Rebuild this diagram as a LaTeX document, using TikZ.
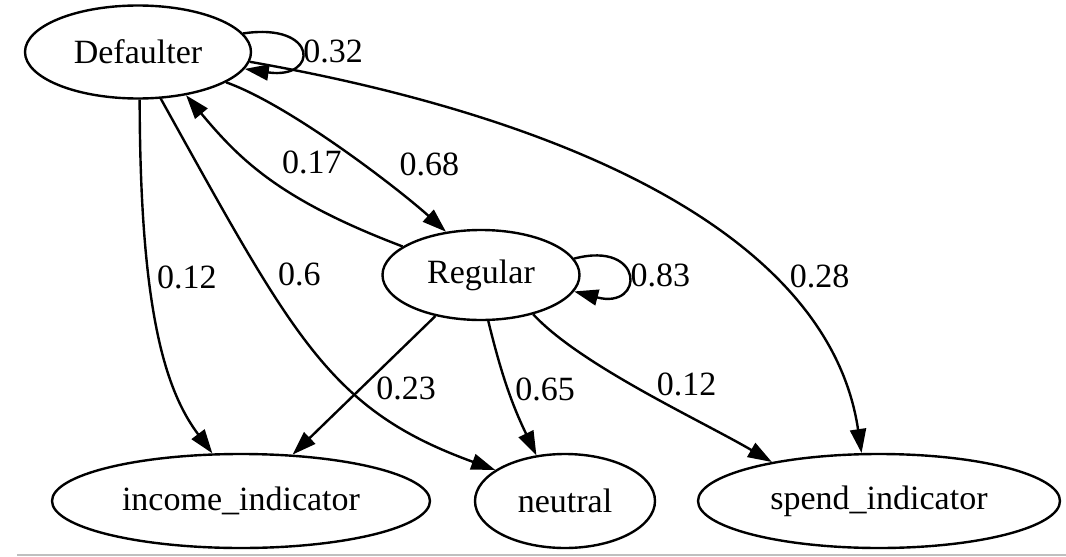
\documentclass[tikz,border=0pt]{standalone}
\usepackage{fontspec}
\setmainfont{Liberation Serif}
\usetikzlibrary{shapes.geometric,arrows.meta}

\begin{document}
\begin{tikzpicture}[x=0.5pt,y=-0.5pt]
\tikzstyle{every node}+=[inner sep=0pt, font=\fontsize{17}{20}\selectfont]
\tikzstyle{vertex}=[draw, ellipse, line width=1.2pt, minimum height=47pt]
\tikzstyle{link}=[line width=1.2pt, -{Triangle[length=12pt,width=8pt]}]
\tikzstyle{wt}=[inner sep=1pt]
\useasboundingbox (0,0) rectangle (1066,557);
% states
\node [vertex, minimum width=113pt, minimum height=46.5pt] (def) at (138,52) {Defaulter};
\node [vertex, minimum width=98.5pt, minimum height=45pt] (reg) at (481,275) {Regular};
\node [vertex, minimum width=189pt] (inc) at (241,501) {income\_indicator};
\node [vertex, minimum width=90pt] (neu) at (565,501) {neutral};
\node [vertex, minimum width=181pt] (spe) at (879,501) {spend\_indicator};
% transitions out of Defaulter
\draw [link] (def.10) .. controls (319,22) and (319,80) .. node [wt, right] {0.32} (def.-9);
\draw [link] (def.-19) .. controls (290,105) and (400,190) .. node [wt, pos=.58, right=17pt] {0.68} (reg.129);
\draw [link] (def.-88) .. controls (140,310) and (165,390) .. node [wt, pos=.35, right=2.5pt] {0.12} (inc.121);
\draw [link] (def.-64) .. controls (295,340) and (330,410) .. node [wt, pos=.3, right=7pt] {0.6} (neu.156);
\draw [link] (def.-5) .. controls (580,120) and (830,240) .. node [wt, pos=.68, right=9pt] {0.28} (spe.110);
% transitions out of Regular
\draw [link] (reg.160) .. controls (280,200) and (240,160) .. node [wt, pos=.3, above=14pt] {0.17} (def.-42);
\draw [link] (reg.10) .. controls (645,240) and (645,310) .. node [wt, right] {0.83} (reg.-10);
\draw [link] (reg.222) -- node [wt, pos=.52, right=6pt] {0.23} (inc.42);
\draw [link] (reg.-81) to [bend right=6] node [wt, pos=.5, right=2pt] {0.65} (neu.122);
\draw [link] (reg.-37) .. controls (580,365) and (700,420) .. node [wt, pos=.66, above=8pt] {0.12} (spe.160);
% bottom rule
\draw [black!25, line width=1.2pt] (17,555) -- (1066,555);
\end{tikzpicture}
\end{document}
